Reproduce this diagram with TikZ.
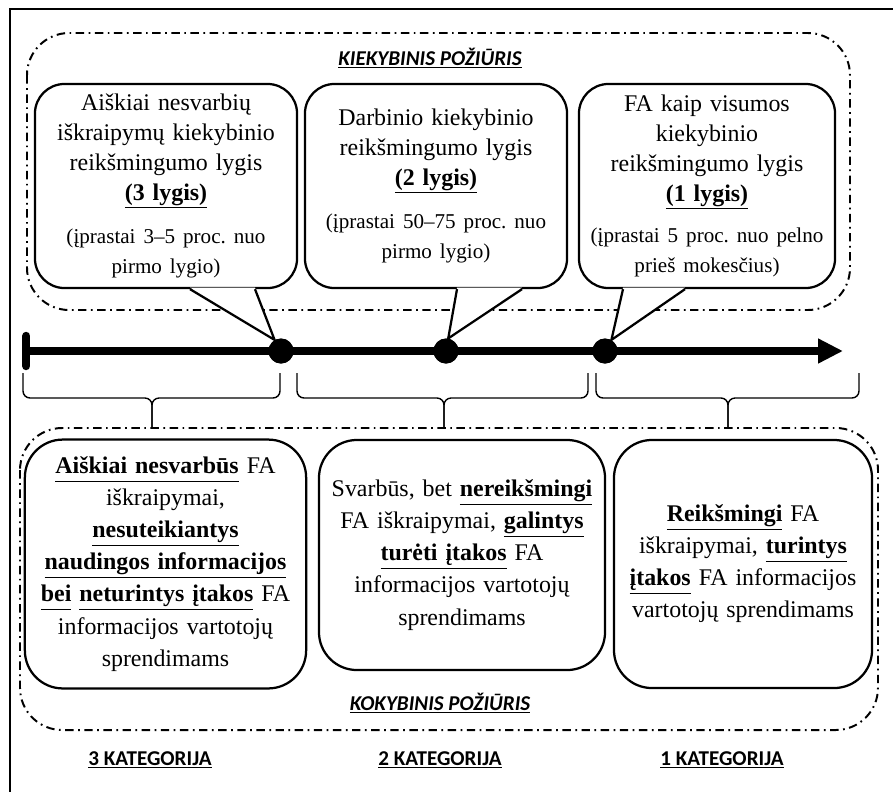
\documentclass[tikz,border=0pt]{standalone}
\usepackage{fontspec}
\setmainfont{Liberation Serif}
\newfontfamily\labelfont{Carlito}
\usetikzlibrary{arrows.meta,calc}
\frenchspacing

\newcommand{\uterm}[1]{\underline{\textbf{#1}\vphantom{(y}}}

\begin{document}
\begin{tikzpicture}[
    x=0.025cm, y=-0.025cm,
    every node/.style={align=center, inner sep=0pt},
    callout/.style={draw, line width=1.6pt, rounded corners=21pt, fill=white, minimum height=5.1cm, font=\fontsize{17}{21.3}\selectfont},
    catbox/.style={draw, line width=1.6pt, rounded corners=27pt, font=\fontsize{17}{22.8}\selectfont},
    region/.style={draw, line width=1.4pt, rounded corners=30pt, dash pattern=on 6pt off 3.2pt on 1.2pt off 3.2pt},
    heading/.style={font=\labelfont\bfseries\itshape\fontsize{15}{17}\selectfont},
    category/.style={font=\labelfont\bfseries\fontsize{15}{18}\selectfont},
    dot/.style={circle, fill, minimum size=0.625cm},
    brace/.style={line width=1pt, rounded corners=5pt},
    tail/.style={line width=1.6pt},
    timeline/.style={line width=6pt, arrows={Bar[width=0.75cm,round]-Triangle[length=0.62cm,width=0.58cm]}}
]
% Set manual bounding box
\useasboundingbox (0,0) rectangle (893,791);

% Frame
\draw[line width=1.5pt] (10,9) rectangle (910,810);

% Quantitative and qualitative regions
\draw[region] (27,33) rectangle (850,310);
\draw[region] (20,428) rectangle (878,730);
\node[heading] (kiek) at (430,58) {\underline{KIEKYBINIS POŽIŪRIS}};
\node[heading] (koky) at (440,703) {\underline{KOKYBINIS POŽIŪRIS}};

% Levels
\node[callout, minimum width=6.55cm, text width=6.3cm] (t3) at (166,186) {
    Aiškiai nesvarbių\\ iškraipymų kiekybinio\\ reikšmingumo lygis\\ \uterm{(3 lygis)}\par
    \vspace{12.8pt}\fontsize{15}{17.8}\selectfont
    (įprastai 3–5 proc. nuo\\ pirmo lygio)};
\node[callout, minimum width=6.55cm, text width=6.3cm] (t2) at (436,186) {
    Darbinio kiekybinio\\ reikšmingumo lygis\\ \uterm{(2 lygis)}\par
    \vspace{12.8pt}\fontsize{15}{17.8}\selectfont
    (įprastai 50–75 proc. nuo\\ pirmo lygio)};
\node[callout, minimum width=6.4cm, text width=6.15cm] (t1) at (707,186) {
    FA kaip visumos\\ kiekybinio\\ reikšmingumo lygis\\ \uterm{(1 lygis)}\par
    \vspace{12pt}\fontsize{15}{17.8}\selectfont
    (įprastai 5 proc. nuo pelno\\ prieš mokesčius)};

% Points on the scale
\node[dot] (d3) at (281,351) {};
\node[dot] (d2) at (446,351) {};
\node[dot] (d1) at (605,351) {};

% Callout tails
\fill[white] ($(t3.south)+(24,-1.5)$) -- (d3.120) -- ($(t3.south)+(89,-1.5)$) -- cycle;
\draw[tail] ($(t3.south)+(24,0)$) -- (d3.120) -- ($(t3.south)+(89,0)$);
\fill[white] ($(t2.south)+(21,-1.5)$) -- (d2.80) -- ($(t2.south)+(86,-1.5)$) -- cycle;
\draw[tail] ($(t2.south)+(21,0)$) -- (d2.80) -- ($(t2.south)+(86,0)$);
\fill[white] ($(t1.south)+(-84,-1.5)$) -- (d1.60) -- ($(t1.south)+(-22,-1.5)$) -- cycle;
\draw[tail] ($(t1.south)+(-84,0)$) -- (d1.60) -- ($(t1.south)+(-22,0)$);

% Scale
\coordinate (tstart) at (22,351);
\coordinate (tend) at (843,351);
\draw[timeline] (tstart) -- (tend);
\foreach \d in {d3,d2,d1}
    \node[dot] at (\d) {};

% Braces
\foreach \a/\b/\m in {23/280/152, 297/588/444, 596/859/728} {
    \draw[brace] (\a,373) -- (\a,398) -- (\m,398) -- (\m,428);
    \draw[brace] (\b,373) -- (\b,398) -- (\m,398) -- (\m,428);
}

% Categories
\node[catbox, minimum width=7.03cm, minimum height=6.22cm, text width=6.85cm] (k3) at (165.5,564) {
    \uterm{Aiškiai nesvarbūs} FA\\ iškraipymai,\\ \uterm{nesuteikiantys}\\
    \uterm{naudingos informacijos}\\ \uterm{bei} \uterm{neturintys įtakos} FA\\
    informacijos vartotojų\\ sprendimams};
\node[catbox, minimum width=7.15cm, minimum height=5.75cm, text width=7cm] (k2) at (462,555) {
    Svarbūs, bet \uterm{nereikšmingi}\\ FA iškraipymai, \uterm{galintys}\\
    \uterm{turėti įtakos} FA\\ informacijos vartotojų\\ sprendimams};
\node[catbox, minimum width=6.45cm, minimum height=6.2cm, text width=6.3cm] (k1) at (743,564) {
    \uterm{Reikšmingi} FA\\ iškraipymai, \uterm{turintys}\\
    \uterm{įtakos} FA informacijos\\ vartotojų sprendimams};

\node[category] (c3) at (150,760) {\underline{3 KATEGORIJA}};
\node[category] (c2) at (440,760) {\underline{2 KATEGORIJA}};
\node[category] (c1) at (722,760) {\underline{1 KATEGORIJA}};

\end{tikzpicture}
\end{document}
